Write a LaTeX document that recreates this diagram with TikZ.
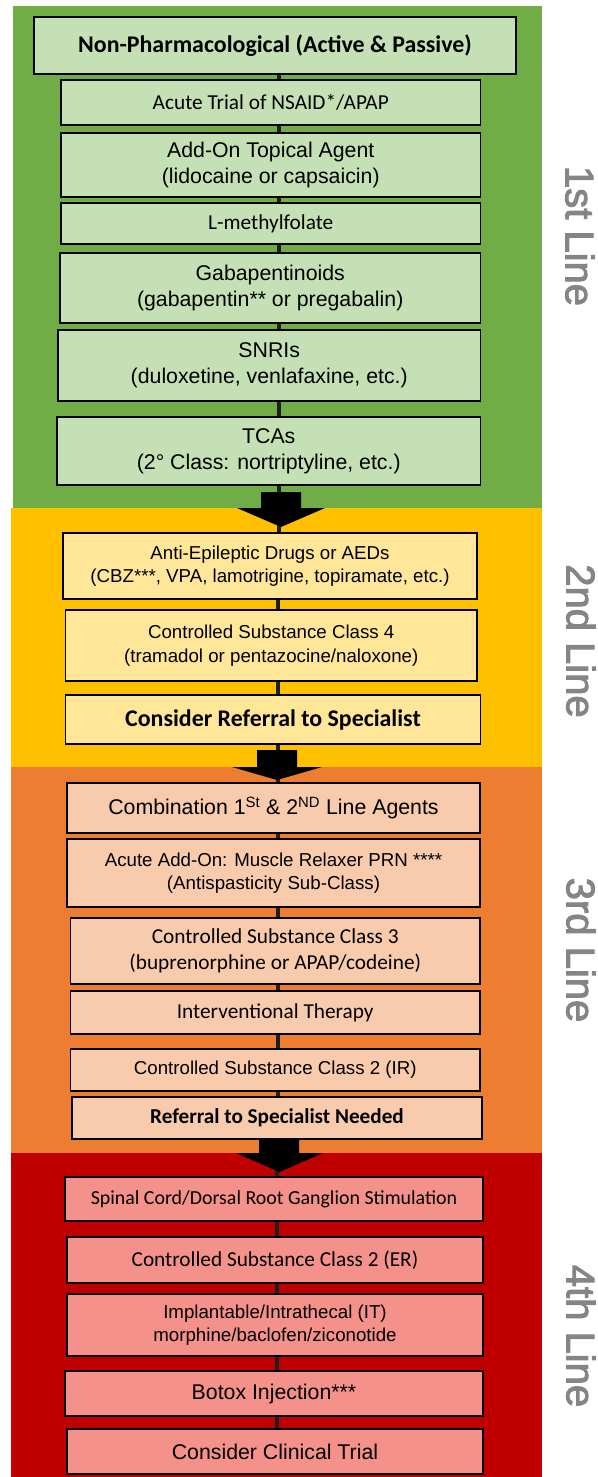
\documentclass[tikz,border=0pt]{standalone}
\usepackage{fontspec}
\setmainfont{Liberation Sans}
\newfontfamily\calib{Carlito}
\newfontfamily\sidefont[FakeBold=2.5]{Liberation Sans}
\definecolor{bandG}{HTML}{70AD47}
\definecolor{bandY}{HTML}{FFC000}
\definecolor{bandO}{HTML}{ED7D31}
\definecolor{bandR}{HTML}{C00000}
\definecolor{boxG}{HTML}{C5E0B4}
\definecolor{boxY}{HTML}{FFE699}
\definecolor{boxO}{HTML}{F8CBAD}
\definecolor{boxR}{HTML}{F4918A}
\definecolor{sidegray}{HTML}{858585}
\definecolor{connc}{HTML}{1E1E1E}
\tikzset{
  box/.style={draw=black, line width=1.5pt, inner sep=0pt, align=center, text=black},
  gbx/.style={box, fill=boxG},
  ybx/.style={box, fill=boxY},
  obx/.style={box, fill=boxO},
  rbx/.style={box, fill=boxR},
  fA/.style={font=\fontsize{21.3}{26}\selectfont},
  fa/.style={font=\fontsize{18.7}{23.5}\selectfont},
  fC/.style={font=\calib\fontsize{21.3}{26}\selectfont},
  fCs/.style={font=\calib\fontsize{19.9}{24}\selectfont},
  fB/.style={font=\calib\bfseries\fontsize{23.9}{28}\selectfont},
  fBs/.style={font=\calib\bfseries\fontsize{21.2}{26}\selectfont},
  conn/.style={draw=connc, line width=4pt},
  blockarrow/.style={fill=black},
  side/.style={rotate=-90, text=sidegray, font=\sidefont\fontsize{40}{44}\selectfont, inner sep=0pt}
}
\begin{document}
\begin{tikzpicture}[x=1pt,y=-1pt]
\useasboundingbox (0,0) rectangle (597,1477);
% bands
\fill[bandG] (12.5,6) rectangle (542,508);
\fill[bandY] (10.5,508) rectangle (542,767);
\fill[bandO] (10.5,767) rectangle (542,1153);
\fill[bandR] (10.5,1153) rectangle (542,1477);
% connector x positions
\coordinate (cg) at (279,0);
\coordinate (cy) at (278,0);
\coordinate (co) at (277.5,0);
\coordinate (cr) at (277,0);
% 1st line
\node[gbx, fB, minimum width=482pt, minimum height=57pt] (b1) at (275,45.5) {Non-Pharmacological (Active \& Passive)};
\node[gbx, fC, minimum width=419.5pt, minimum height=45pt] (b2) at (270.75,102.5) {Acute Trial of NSAID*/APAP};
\node[gbx, fA, minimum width=419.5pt, minimum height=64pt] (b3) at (270.75,165) {Add-On Topical Agent\\(lidocaine or capsaicin)};
\node[gbx, fC, minimum width=419.5pt, minimum height=41pt] (b4) at (270.75,223.5) {L-methylfolate};
\node[gbx, fA, minimum width=420.5pt, minimum height=70pt] (b5) at (270.25,288) {Gabapentinoids\\(gabapentin** or pregabalin)};
\node[gbx, fA, minimum width=422.5pt, minimum height=71pt] (b6) at (269.25,365.5) {SNRIs\\(duloxetine, venlafaxine, etc.)};
\node[gbx, fA, minimum width=423.5pt, minimum height=68pt] (b7) at (268.75,451) {TCAs\\(2° Class: nortriptyline, etc.)};
% 2nd line
\node[ybx, fa, minimum width=414pt, minimum height=66pt] (b8) at (270,566) {Anti-Epileptic Drugs or AEDs\\(CBZ***, VPA, lamotrigine, topiramate, etc.)};
\node[ybx, fa, minimum width=411.5pt, minimum height=71pt] (b9) at (271.25,645.5) {Controlled Substance Class 4\\(tramadol or pentazocine/naloxone)};
\node[ybx, fB, minimum width=415pt, minimum height=49pt] (b10) at (273,719.5) {Consider Referral to Specialist};
% 3rd line
\node[obx, fA, minimum width=413pt, minimum height=50pt] (b11) at (273.5,808) {Combination 1\textsuperscript{St} \& 2\textsuperscript{ND} Line Agents};
\node[obx, fa, minimum width=413pt, minimum height=68pt] (b12) at (273.5,873) {Acute Add-On: Muscle Relaxer PRN ****\\(Antispasticity Sub-Class)};
\node[obx, fC, minimum width=409.5pt, minimum height=66pt] (b13) at (275.25,951) {Controlled Substance Class 3\\(buprenorphine or APAP/codeine)};
\node[obx, fC, minimum width=409.5pt, minimum height=43pt] (b14) at (275.25,1012.5) {Interventional Therapy};
\node[obx, fa, minimum width=409.5pt, minimum height=42pt] (b15) at (275.25,1070) {Controlled Substance Class 2 (IR)};
\node[obx, fBs, minimum width=410pt, minimum height=42pt] (b16) at (277,1118) {Referral to Specialist Needed};
% 4th line
\node[rbx, fCs, minimum width=418pt, minimum height=44pt] (b17) at (274,1199) {Spinal Cord/Dorsal Root Ganglion Stimulation};
\node[rbx, fC, minimum width=416pt, minimum height=46pt] (b18) at (275,1260) {Controlled Substance Class 2 (ER)};
\node[rbx, fa, minimum width=416pt, minimum height=62pt] (b19) at (275,1325) {Implantable/Intrathecal (IT)\\morphine/baclofen/ziconotide};
\node[rbx, fA, minimum width=418pt, minimum height=45pt] (b20) at (274,1393.5) {Botox Injection***};
\node[rbx, fA, minimum width=416pt, minimum height=45pt] (b21) at (275,1451.5) {Consider Clinical Trial};
% connectors
\draw[conn] (b1.south -| cg) -- (b2.north -| cg);
\draw[conn] (b2.south -| cg) -- (b3.north -| cg);
\draw[conn] (b3.south -| cg) -- (b4.north -| cg);
\draw[conn] (b4.south -| cg) -- (b5.north -| cg);
\draw[conn] (b5.south -| cg) -- (b6.north -| cg);
\draw[conn] (b6.south -| cg) -- (b7.north -| cg);
\draw[conn] (b7.south -| cg) -- (b8.north -| cg);
\draw[conn] (b8.south -| cy) -- (b9.north -| cy);
\draw[conn] (b9.south -| cy) -- (b10.north -| cy);
\draw[conn] (b10.south -| cy) -- (b11.north -| cy);
\draw[conn] (b11.south -| co) -- (b12.north -| co);
\draw[conn] (b12.south -| co) -- (b13.north -| co);
\draw[conn] (b13.south -| co) -- (b14.north -| co);
\draw[conn] (b14.south -| co) -- (b15.north -| co);
\draw[conn] (b15.south -| co) -- (b16.north -| co);
\draw[conn] (b16.south -| cr) -- (b17.north -| cr);
\draw[conn] (b17.south -| cr) -- (b18.north -| cr);
\draw[conn] (b18.south -| cr) -- (b19.north -| cr);
\draw[conn] (b19.south -| cr) -- (b20.north -| cr);
\draw[conn] (b20.south -| cr) -- (b21.north -| cr);
% block arrows between bands
\fill[blockarrow] (261,492) -- (301,492) -- (301,508) -- (325,508) -- (281,527) -- (237,508) -- (261,508) -- cycle;
\fill[blockarrow] (257,750) -- (297,750) -- (297,767) -- (322,767) -- (277,780) -- (232,767) -- (257,767) -- cycle;
\fill[blockarrow] (259,1140) -- (299,1140) -- (299,1153) -- (323,1153) -- (279.5,1172) -- (236,1153) -- (259,1153) -- cycle;
% side labels
\node[side] (l1) at (580,236) {1st Line};
\node[side] (l2) at (581,641) {2nd Line};
\node[side] (l3) at (581,950) {3rd Line};
\node[side] (l4) at (581,1336) {4th Line};
\end{tikzpicture}
\end{document}
